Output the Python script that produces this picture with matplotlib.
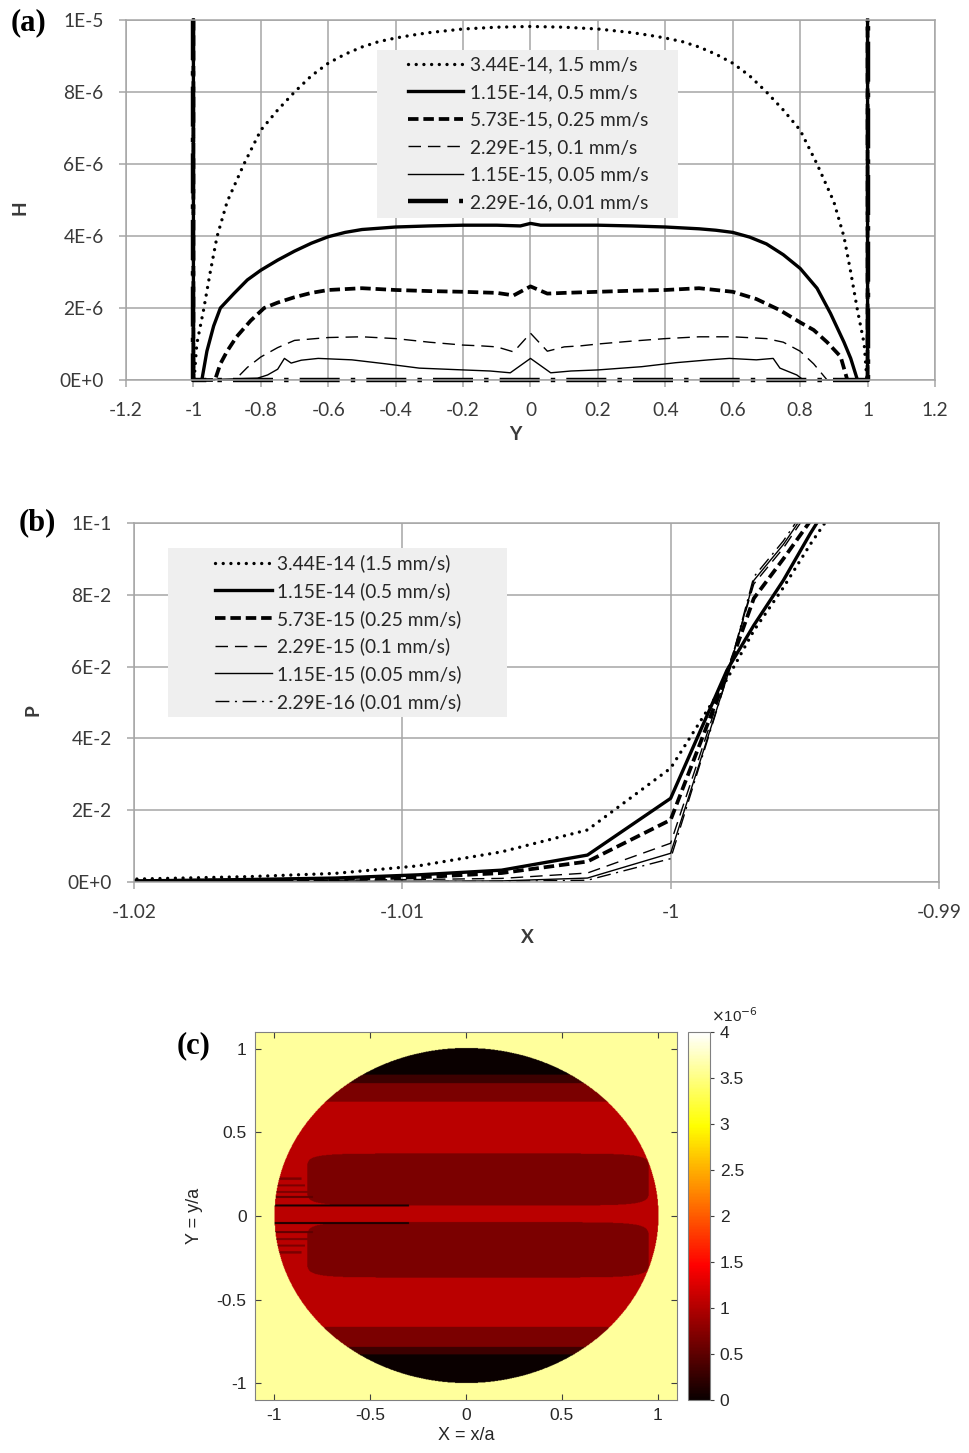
import numpy as np
import matplotlib
matplotlib.use('Agg')
import matplotlib.pyplot as plt
from matplotlib.patches import Rectangle

# ---- panel (a): film thickness H along Y (values in 1E-6)
labels_a = ['3.44E-14, 1.5 mm/s', '1.15E-14, 0.5 mm/s', '5.73E-15, 0.25 mm/s',
            '2.29E-15, 0.1 mm/s', '1.15E-15, 0.05 mm/s', '2.29E-16, 0.01 mm/s']

y_15 = [-1, -1, -0.998, -0.99, -0.97, -0.95, -0.93, -0.9, -0.85, -0.8, -0.75, -0.7, -0.65, -0.6, -0.55,
        -0.5, -0.45, -0.4, -0.35, -0.3, -0.2, -0.1, 0,
        0.1, 0.2, 0.3, 0.35, 0.4, 0.45, 0.5, 0.55, 0.6, 0.65, 0.7, 0.75, 0.8, 0.85, 0.9, 0.93, 0.95, 0.97,
        0.99, 0.998, 1, 1]
h_15 = [10, 0, 0, 1.0, 1.94, 3.0, 3.98, 4.95, 6.0, 6.94, 7.5, 8.0, 8.45, 8.8, 9.05,
        9.25, 9.4, 9.5, 9.58, 9.65, 9.75, 9.8, 9.82,
        9.8, 9.75, 9.65, 9.58, 9.5, 9.4, 9.25, 9.05, 8.8, 8.45, 8.0, 7.5, 6.94, 6.0, 4.95, 3.98, 3.0, 1.94,
        1.0, 0, 0, 10]

y_05 = [-1, -1, -0.975, -0.96, -0.94, -0.92, -0.88, -0.84, -0.8, -0.75, -0.7, -0.65, -0.6, -0.55, -0.5,
        -0.4, -0.3, -0.2, -0.1, -0.03, 0,
        0.03, 0.1, 0.2, 0.3, 0.4, 0.5, 0.55, 0.6, 0.65, 0.7, 0.75, 0.8, 0.85, 0.89, 0.93, 0.95, 0.97, 1, 1]
h_05 = [10, 0, 0, 0.8, 1.5, 2.0, 2.4, 2.78, 3.05, 3.33, 3.58, 3.8, 3.98, 4.1, 4.18,
        4.25, 4.28, 4.3, 4.3, 4.28, 4.35,
        4.3, 4.3, 4.3, 4.28, 4.25, 4.2, 4.16, 4.1, 3.97, 3.78, 3.48, 3.1, 2.55, 1.85, 1.05, 0.6, 0, 0, 10]

y_025 = [-1, -1, -0.936, -0.92, -0.9, -0.872, -0.83, -0.79, -0.75, -0.7, -0.65, -0.6, -0.5, -0.4, -0.3,
         -0.2, -0.1, -0.05, 0,
         0.05, 0.1, 0.2, 0.3, 0.4, 0.5, 0.6, 0.67, 0.74, 0.8, 0.84, 0.88, 0.92, 0.94, 1, 1]
h_025 = [10, 0, 0, 0.45, 0.8, 1.2, 1.65, 2.0, 2.15, 2.3, 2.42, 2.5, 2.55, 2.5, 2.47,
         2.45, 2.42, 2.35, 2.6,
         2.4, 2.42, 2.45, 2.48, 2.5, 2.55, 2.45, 2.25, 1.94, 1.6, 1.39, 1.05, 0.65, 0, 0, 10]

y_01 = [-1, -1, -0.877, -0.84, -0.8, -0.75, -0.7, -0.6, -0.5, -0.4, -0.3, -0.2, -0.15, -0.1, -0.05, 0,
        0.05, 0.1, 0.15, 0.2, 0.3, 0.4, 0.5, 0.6, 0.7, 0.75, 0.8, 0.84, 0.88, 1, 1]
h_01 = [10, 0, 0, 0.35, 0.64, 0.9, 1.1, 1.18, 1.2, 1.15, 1.05, 0.97, 0.95, 0.92, 0.78, 1.3,
        0.8, 0.92, 0.95, 1.0, 1.08, 1.15, 1.2, 1.2, 1.15, 1.05, 0.8, 0.45, 0, 0, 10]

y_005 = [-1, -1, -0.81, -0.78, -0.75, -0.73, -0.71, -0.68, -0.63, -0.53, -0.43, -0.33, -0.2, -0.12, -0.06, 0,
         0.06, 0.12, 0.2, 0.33, 0.43, 0.53, 0.59, 0.67, 0.72, 0.74, 0.79, 0.81, 1, 1]
h_005 = [10, 0, 0.05, 0.14, 0.3, 0.6, 0.47, 0.55, 0.6, 0.56, 0.45, 0.33, 0.28, 0.25, 0.2, 0.6,
         0.2, 0.25, 0.28, 0.37, 0.48, 0.56, 0.6, 0.56, 0.6, 0.33, 0.14, 0, 0, 10]

y_001 = [-1, -1, 1, 1]
h_001 = [10, 0, 0, 10]

# ---- panel (b): pressure P along X
labels_b = ['3.44E-14 (1.5 mm/s)', '1.15E-14 (0.5 mm/s)', '5.73E-15 (0.25 mm/s)',
            '2.29E-15 (0.1 mm/s)', '1.15E-15 (0.05 mm/s)', '2.29E-16 (0.01 mm/s)']
x_b = [-1.0219, -1.0188, -1.0157, -1.0125, -1.0094, -1.0063, -1.0031, -1.0,
       -0.9979, -0.9969, -0.9958, -0.9948, -0.9938]
p_15 = [0.0005, 0.0010, 0.0015, 0.0024, 0.0045, 0.0084, 0.0145, 0.0317, 0.0565, 0.070, 0.082, 0.094, 0.105]
p_05 = [0.0002, 0.0004, 0.0007, 0.0011, 0.0020, 0.0033, 0.0075, 0.0233, 0.059, 0.0715, 0.084, 0.097, 0.109]
p_025 = [0.0001, 0.0003, 0.0005, 0.0008, 0.0013, 0.0025, 0.0057, 0.0173, 0.058, 0.079, 0.090, 0.1005, 0.111]
p_01 = [0.0001, 0.0002, 0.0003, 0.0005, 0.0007, 0.0010, 0.0025, 0.0108, 0.058, 0.083, 0.093, 0.104, 0.114]
p_005 = [0.0, 0.0001, 0.0001, 0.0002, 0.0002, 0.0003, 0.0011, 0.0080, 0.057, 0.084, 0.094, 0.105, 0.115]
p_001 = [0.0, 0.0, 0.0001, 0.0001, 0.0001, 0.0002, 0.0005, 0.0065, 0.057, 0.085, 0.095, 0.106, 0.116]

# ---- panel (c): H map, horizontal bands (values in 1E-6)
band_top = [1.1, 0.84, 0.79, 0.68, 0.37, 0.06, -0.04, -0.37, -0.665, -0.785, -0.83]
band_bot = [0.84, 0.79, 0.68, 0.37, 0.06, -0.04, -0.37, -0.665, -0.785, -0.83, -1.1]
band_val = [0.0, 0.3, 0.68, 1.05, 0.68, 1.05, 0.68, 1.05, 0.68, 0.3, 0.0]
band_x0 = [-1.5, -1.5, -1.5, -1.5, -0.83, -1.5, -0.83, -1.5, -1.5, -1.5, -1.5]
band_x1 = [1.5, 1.5, 1.5, 1.5, 0.95, 1.5, 0.95, 1.5, 1.5, 1.5, 1.5]
# thin streaks near the left edge
streak_y = [0.06, -0.045, 0.22, 0.18, 0.14, 0.11, -0.1, -0.14, -0.18, -0.22]
streak_x1 = [-0.3, -0.3, -0.86, -0.84, -0.82, -0.8, -0.8, -0.82, -0.84, -0.86]
streak_val = [0.1, 0.1, 0.68, 0.68, 0.68, 0.5, 0.5, 0.68, 0.68, 0.68]
h_base = 1.05
h_outside = 3.6

plt.rcParams['font.family'] = ['Lato', 'DejaVu Sans']
grid_c = '#a6a6a6'
txt_c = '#3a3a3a'
fs = 13.8

fig = plt.figure(figsize=(9.7, 14.53), dpi=100)

def excel_axes(ax):
    ax.grid(True, color=grid_c, lw=1.1)
    ax.set_axisbelow(True)
    for s in ax.spines.values():
        s.set_color(grid_c)
        s.set_linewidth(1.1)
    ax.tick_params(length=5, width=1.1, color=grid_c, labelsize=fs, labelcolor=txt_c, pad=11)

def boxed_legend(ax, box, anchor, hl, htp, ls):
    ax.add_patch(Rectangle(box[:2], box[2], box[3], transform=ax.transAxes, facecolor='#efefef',
                           edgecolor='none', zorder=3, clip_on=False))
    leg = ax.legend(loc='upper left', bbox_to_anchor=anchor, borderaxespad=0, borderpad=0,
                    fontsize=fs, handlelength=hl, handletextpad=htp, labelspacing=ls, frameon=False)
    for t in leg.get_texts():
        t.set_color('#262626')

# ---------------- (a)
ax1 = fig.add_axes([0.1299, 0.73847, 0.8340, 0.24777])
ys_a = [y_15, y_05, y_025, y_01, y_005, y_001]
hs_a = [h_15, h_05, h_025, h_01, h_005, h_001]
sty_a = [dict(lw=2.4, dashes=(0.01, 2.3), dash_capstyle='round'),
         dict(lw=2.4),
         dict(lw=2.7, dashes=(2.8, 1.3)),
         dict(lw=1.0, dashes=(9, 5)),
         dict(lw=1.0),
         dict(lw=3.2, dashes=(9, 2.5, 1, 2.5))]
for yv, hv, lab, st in zip(ys_a, hs_a, labels_a, sty_a):
    ax1.plot(yv, np.array(hv) * 1e-6, color='black', label=lab, clip_on=False, **st)
ax1.set_xlim(-1.2, 1.2)
ax1.set_ylim(0, 1e-5)
ax1.set_xticks(np.arange(-1.2, 1.21, 0.2))
ax1.set_xticklabels(['-1.2', '-1', '-0.8', '-0.6', '-0.4', '-0.2', '0', '0.2', '0.4', '0.6', '0.8', '1', '1.2'])
ax1.set_yticks(np.arange(0, 1.01e-5, 2e-6))
ax1.set_yticklabels(['0E+0', '2E-6', '4E-6', '6E-6', '8E-6', '1E-5'])
excel_axes(ax1)
boxed_legend(ax1, (0.3103, 0.45, 0.372, 0.4667), (0.3486, 0.8986), 2.86, 0.36, 0.55)
fig.text(20 / 970, 1 - 208 / 1453, 'H', rotation=90, ha='center', va='center',
         fontsize=fs, fontweight='bold', color=txt_c)
fig.text(515 / 970, 1 - 435 / 1453, 'Y', ha='center', va='center', fontsize=fs, fontweight='bold', color=txt_c)
fig.text(11 / 970, 1 - 23 / 1453, '(a)', ha='left', va='center', fontsize=22, fontweight='bold',
         family='Liberation Serif')

# ---------------- (b)
ax2 = fig.add_axes([0.1381, 0.39298, 0.8299, 0.24708])
ps_b = [p_15, p_05, p_025, p_01, p_005, p_001]
sty_b = [dict(lw=2.4, dashes=(0.01, 2.3), dash_capstyle='round'),
         dict(lw=2.4),
         dict(lw=2.7, dashes=(2.8, 1.3)),
         dict(lw=1.0, dashes=(9, 5)),
         dict(lw=1.0),
         dict(lw=1.0, dashes=(10, 4, 1.5, 4))]
for pv, lab, st in zip(ps_b, labels_b, sty_b):
    ax2.plot(x_b, pv, color='black', label=lab, **st)
ax2.set_xlim(-1.02, -0.99)
ax2.set_ylim(0, 0.1)
ax2.set_xticks([-1.02, -1.01, -1.0, -0.99])
ax2.set_xticklabels(['-1.02', '-1.01', '-1', '-0.99'])
ax2.set_yticks(np.arange(0, 0.101, 0.02))
ax2.set_yticklabels(['0E+0', '2E-2', '4E-2', '6E-2', '8E-2', '1E-1'])
excel_axes(ax2)
boxed_legend(ax2, (0.0422, 0.4596, 0.4211, 0.4708), (0.1006, 0.9123), 2.97, 0.26, 0.51)
fig.text(33 / 970, 1 - 710 / 1453, 'P', rotation=90, ha='center', va='center',
         fontsize=fs, fontweight='bold', color=txt_c)
fig.text(527 / 970, 1 - 938 / 1453, 'X', ha='center', va='center', fontsize=fs, fontweight='bold', color=txt_c)
fig.text(19 / 970, 1 - 523 / 1453, '(b)', ha='left', va='center', fontsize=22, fontweight='bold',
         family='Liberation Serif')

# ---------------- (c)
n = 736
gx = np.linspace(-1.1, 1.1, n)
gy = np.linspace(-1.1, 1.1, n)
XX, YY = np.meshgrid(gx, gy)
field = np.full(XX.shape, h_base)
for t, b, v, x0, x1 in zip(band_top, band_bot, band_val, band_x0, band_x1):
    xc, hw = (x0 + x1) / 2, (x1 - x0) / 2
    yc, hh = (t + b) / 2, (t - b) / 2
    # rounded band ends
    m = ((XX - xc) / hw) ** 8 + ((YY - yc) / hh) ** 8 <= 1
    field[m] = v
for sy, sx1, sv in zip(streak_y, streak_x1, streak_val):
    m = (np.abs(YY - sy) < 0.006) & (XX <= sx1)
    field[m] = sv
field[XX ** 2 + YY ** 2 > 1] = h_outside
field = field * 1e-6

ax3 = fig.add_axes([0.2629, 0.03648, 0.4351, 0.25327])
im = ax3.imshow(field, extent=(-1.1, 1.1, -1.1, 1.1), origin='lower', aspect='auto',
                cmap='hot', vmin=0, vmax=4e-6, interpolation='antialiased')
ax3.set_xlim(-1.1, 1.1)
ax3.set_ylim(-1.1, 1.1)
ax3.set_xticks([-1, -0.5, 0, 0.5, 1])
ax3.set_xticklabels(['-1', '-0.5', '0', '0.5', '1'])
ax3.set_yticks([-1, -0.5, 0, 0.5, 1])
ax3.set_yticklabels(['-1', '-0.5', '0', '0.5', '1'])
ax3.tick_params(direction='in', length=4, width=0.8, color='#404040', labelsize=12.5,
                labelcolor='#262626', top=True, right=True, pad=6)
for s in ax3.spines.values():
    s.set_color('#808080')
    s.set_linewidth(0.8)
for lab in ax3.get_xticklabels() + ax3.get_yticklabels():
    lab.set_family('Liberation Sans')
ax3.set_xlabel('X = x/a', fontsize=13, family='Liberation Sans', color='#262626', labelpad=3)
ax3.set_ylabel('Y = y/a', fontsize=13, family='Liberation Sans', color='#262626', labelpad=10)

cax = fig.add_axes([0.7093, 0.03648, 0.0227, 0.25327])
cb = fig.colorbar(im, cax=cax)
cb.set_ticks(np.arange(0, 4.01e-6, 0.5e-6))
cb.set_ticklabels(['0', '0.5', '1', '1.5', '2', '2.5', '3', '3.5', '4'])
cb.outline.set_edgecolor('#808080')
cb.outline.set_linewidth(0.8)
cax.tick_params(direction='out', length=3, width=0.8, color='#404040', labelsize=12.5,
                labelcolor='#262626', pad=4)
for lab in cax.get_yticklabels():
    lab.set_family('Liberation Sans')
cax.text(1.05, 1.02, r'$\times$10$^{-6}$', transform=cax.transAxes, ha='left', va='bottom',
         fontsize=11, family='Liberation Sans', color='#262626')
fig.text(177 / 970, 1 - 1046 / 1453, '(c)', ha='left', va='center', fontsize=22, fontweight='bold',
         family='Liberation Serif')

fig.savefig('out.png', dpi=100)
